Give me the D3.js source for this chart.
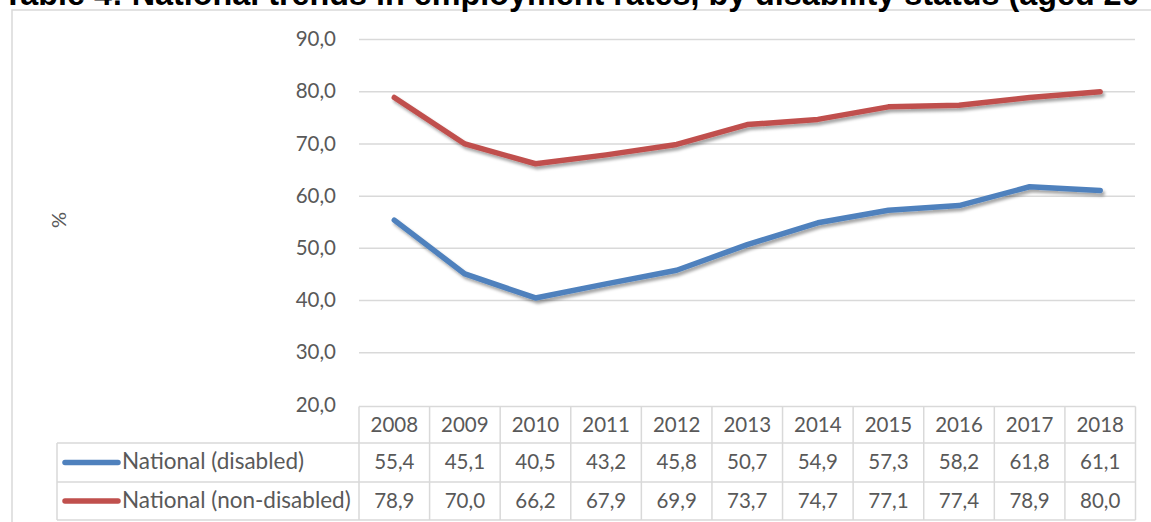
<!DOCTYPE html>
<html>
<head>
<meta charset="utf-8">
<script src="https://cdn.jsdelivr.net/npm/d3@7"></script>
<style>
  html, body { margin: 0; padding: 0; background: #fff; overflow: hidden; }
  svg { display: block; }
</style>
</head>
<body>
<div id="chart"></div>
<script>
// Chart Data
var years = ["2008", "2009", "2010", "2011", "2012", "2013", "2014", "2015", "2016", "2017", "2018"];
var disabled = [55.4, 45.1, 40.5, 43.2, 45.8, 50.7, 54.9, 57.3, 58.2, 61.8, 61.1];
var nonDisabled = [78.9, 70.0, 66.2, 67.9, 69.9, 73.7, 74.7, 77.1, 77.4, 78.9, 80.0];
var seriesNames = ["National (disabled)", "National (non-disabled)"];
var seriesColors = ["#4F81BD", "#C0504D"];
var yTicks = [20, 30, 40, 50, 60, 70, 80, 90];
var titleText = "Table 4: National trends in employment rates, by disability status (aged 20-64)";

var W = 1151, H = 522;
var GRID = "#d9d9d9", TXT = "#595959";

// Comma As Decimal Separator
var loc = d3.formatLocale({decimal: ",", thousands: ".", grouping: [3], currency: ["", ""]});
var fmt = loc.format(".1f");

var svg = d3.select("#chart").append("svg")
    .attr("width", W)
    .attr("height", H);

// Shadow Like The Office Line Effect
var defs = svg.append("defs");
defs.append("filter")
    .attr("id", "shadow")
    .attr("x", "-5%").attr("y", "-20%")
    .attr("width", "110%").attr("height", "140%")
  .append("feDropShadow")
    .attr("dx", 2).attr("dy", 3)
    .attr("stdDeviation", 1.8)
    .attr("flood-color", "#000")
    .attr("flood-opacity", 0.35);

// Chart Frame (runs off the right and bottom edges)
svg.append("rect")
    .attr("x", 12).attr("y", 10)
    .attr("width", W + 20).attr("height", H + 20)
    .attr("fill", "#fff")
    .attr("stroke", GRID)
    .attr("stroke-width", 1.5);

// Title, Cropped At The Top Like The Source
var probe = svg.append("text")
    .attr("font-family", "Liberation Sans, Arial, sans-serif")
    .attr("font-weight", "bold")
    .attr("font-size", 20)
    .text("Table 4: National trends in employment rates, by disability status (aged 20");
var titleSize = 20 * (1140 - 3) / probe.node().getComputedTextLength();
probe.remove();
svg.append("text")
    .attr("x", 3).attr("y", 5)
    .attr("font-family", "Liberation Sans, Arial, sans-serif")
    .attr("font-weight", "bold")
    .attr("font-size", titleSize)
    .attr("fill", "#000")
    .text(titleText);

// Scales
var x = d3.scaleBand().domain(years).range([359, 1135.5]);
var y = d3.scaleLinear().domain([20, 90]).range([405, 39.5]);

// Gridlines
svg.append("g").selectAll("line")
    .data(yTicks.slice(1))
  .enter().append("line")
    .attr("x1", 359).attr("x2", 1135)
    .attr("y1", function(d) { return y(d); })
    .attr("y2", function(d) { return y(d); })
    .attr("stroke", GRID)
    .attr("stroke-width", 1.5);

// Y Axis Labels
svg.append("g").selectAll("text")
    .data(yTicks)
  .enter().append("text")
    .attr("x", 336)
    .attr("y", function(d) { return y(d) + 1.5; })
    .attr("text-anchor", "end")
    .attr("dominant-baseline", "middle")
    .attr("font-family", "Lato, sans-serif")
    .attr("font-size", 20.5)
    .attr("fill", TXT)
    .text(function(d) { return fmt(d); });

// Y Axis Title
svg.append("text")
    .attr("transform", "translate(66,220) rotate(-90)")
    .attr("text-anchor", "middle")
    .attr("font-family", "Lato, sans-serif")
    .attr("font-size", 20)
    .attr("fill", TXT)
    .text("%");

// Lines
var line = d3.line()
    .x(function(d, i) { return x(years[i]) + x.bandwidth() / 2; })
    .y(function(d) { return y(d); });

[disabled, nonDisabled].forEach(function(s, k) {
  svg.append("path")
      .datum(s)
      .attr("d", line)
      .attr("fill", "none")
      .attr("stroke", seriesColors[k])
      .attr("stroke-width", 5.5)
      .attr("stroke-linejoin", "round")
      .attr("stroke-linecap", "round")
      .attr("filter", "url(#shadow)");
});

// Data Table
var rowTops = [406.5, 443, 482, 520];
var table = svg.append("g")
    .attr("font-family", "Lato, sans-serif")
    .attr("font-size", 20.5)
    .attr("fill", TXT);

// Header Row
table.selectAll(".head")
    .data(years)
  .enter().append("text")
    .attr("class", "head")
    .attr("x", function(d) { return x(d) + x.bandwidth() / 2; })
    .attr("y", 432)
    .attr("text-anchor", "middle")
    .text(function(d) { return d; });

// Value Rows
[disabled, nonDisabled].forEach(function(s, k) {
  var base = [469, 507.5][k];
  var mid = (rowTops[k + 1] + rowTops[k + 2]) / 2;
  table.selectAll(".v" + k)
      .data(s)
    .enter().append("text")
      .attr("class", "v" + k)
      .attr("x", function(d, i) { return x(years[i]) + x.bandwidth() / 2; })
      .attr("y", base)
      .attr("text-anchor", "middle")
      .text(function(d) { return fmt(d); });
  // Legend Key
  table.append("line")
      .attr("x1", 65).attr("x2", 118)
      .attr("y1", mid).attr("y2", mid)
      .attr("stroke", seriesColors[k])
      .attr("stroke-width", 5.5)
      .attr("stroke-linecap", "round");
  table.append("text")
      .attr("x", 122)
      .attr("y", base)
      .attr("font-size", 22.5)
      .text(seriesNames[k]);
});

// Table Grid
var gl = svg.append("g")
    .attr("stroke", GRID)
    .attr("stroke-width", 1.5)
    .attr("fill", "none");
// Horizontal Lines
gl.append("line").attr("x1", 359).attr("x2", 1135.5).attr("y1", rowTops[0]).attr("y2", rowTops[0]);
rowTops.slice(1).forEach(function(t) {
  gl.append("line").attr("x1", 57).attr("x2", 1135.5).attr("y1", t).attr("y2", t);
});
// Vertical Lines
gl.append("line").attr("x1", 57).attr("x2", 57).attr("y1", rowTops[1]).attr("y2", rowTops[3]);
gl.selectAll(".vl")
    .data(years.concat(["end"]))
  .enter().append("line")
    .attr("class", "vl")
    .attr("x1", function(d) { return d === "end" ? 1135.5 : x(d); })
    .attr("x2", function(d) { return d === "end" ? 1135.5 : x(d); })
    .attr("y1", rowTops[0])
    .attr("y2", rowTops[3]);
</script>
</body>
</html>
